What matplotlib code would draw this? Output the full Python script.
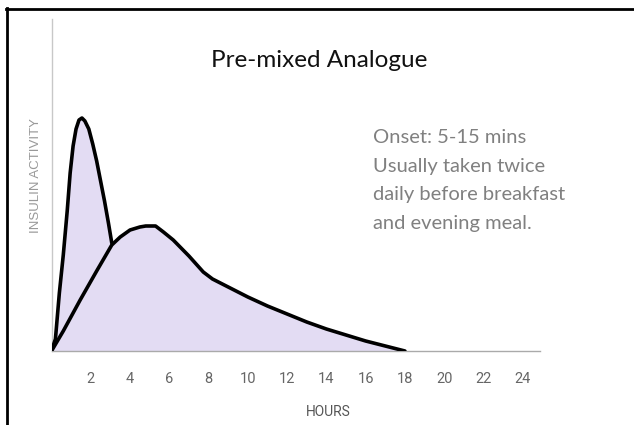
import matplotlib
matplotlib.use("Agg")
import matplotlib.pyplot as plt
from matplotlib.lines import Line2D

# ---- data ----
rapid_hours = [0, 0.2, 0.4, 0.6, 0.8, 0.95, 1.1, 1.25, 1.4, 1.55, 1.7, 1.9, 2.1, 2.3, 2.5, 2.7, 2.9, 3.07]
rapid_activity = [0, 12, 58, 96, 140, 178, 205, 222, 231, 233, 230, 222, 207, 190, 170, 150, 128, 108]

long_hours = [0, 0.6, 1.46, 2.3, 3.07, 3.5, 4.0, 4.5, 4.8, 5.3, 5.7, 6.2, 7.0, 7.73, 8.2, 9, 10, 11, 12, 13, 14, 15, 16, 17, 18]
long_activity = [0, 20, 51, 80, 106, 114, 121, 124, 125, 125, 119, 111, 95, 79, 72, 64, 54, 45, 37, 29, 22, 16, 10, 5, 0]

tick_hours = [2, 4, 6, 8, 10, 12, 14, 16, 18, 20, 22, 24]
tick_labels = [str(t) for t in tick_hours]

title = "Pre-mixed Analogue"
note_lines = ["Onset: 5-15 mins", "Usually taken twice", "daily before breakfast", "and evening meal."]
x_label = "HOURS"
y_label = "INSULIN ACTIVITY"

W, H = 634, 425
fig = plt.figure(figsize=(W / 100, H / 100), dpi=100)
fig.patch.set_facecolor("white")

def fx(px):
    return px / W

def fy(py):
    return 1 - py / H

ax = fig.add_axes([fx(51.5), fy(351), fx(540) - fx(51.5), fy(19) - fy(351)])
ax.set_xlim(0, 24.88)
ax.set_ylim(0, 332)

fill_col = "#e3dcf3"
ax.fill_between(long_hours, long_activity, 0, color=fill_col, lw=0, zorder=1)
ax.fill_between(rapid_hours, rapid_activity, 0, color=fill_col, lw=0, zorder=1)
ax.plot(rapid_hours, rapid_activity, color="black", lw=2.6, solid_capstyle="round", solid_joinstyle="round", zorder=3)
ax.plot(long_hours, long_activity, color="black", lw=2.6, solid_capstyle="round", solid_joinstyle="round", zorder=3)

for s in ["top", "right"]:
    ax.spines[s].set_visible(False)
ax.spines["left"].set_color("#c8c8c8")
ax.spines["left"].set_linewidth(1.0)
ax.spines["bottom"].set_color("#aaaaaa")
ax.spines["bottom"].set_linewidth(1.0)
ax.set_yticks([])
ax.set_xticks(tick_hours)
ax.set_xticklabels(tick_labels, fontfamily="Roboto", fontsize=10.5, color="#666666")
ax.tick_params(axis="x", length=0, pad=15)
ax.set_facecolor("none")

fig.text(fx(328), fy(412.5), x_label, ha="center", va="center", fontfamily="Roboto", fontsize=10, color="#555555")
fig.text(fx(36), fy(176), y_label, ha="center", va="center", rotation=90, fontfamily="Liberation Sans", fontsize=9.5, color="#999999")

fig.text(fx(319), fy(66.7), title, ha="center", va="baseline", fontfamily="Lato", fontsize=17.5, color="#111111")
for i, line in enumerate(note_lines):
    fig.text(fx(372.7), fy(143.3 + 28.5 * i), line, ha="left", va="baseline", fontfamily="Lato", fontsize=14.5, color="#808080")

# frame lines (top and left)
fig.add_artist(Line2D([fx(6), fx(634)], [fy(9.3), fy(9.3)], color="black", lw=2.0, transform=fig.transFigure))
fig.add_artist(Line2D([fx(7), fx(7)], [fy(8.3), fy(425)], color="black", lw=2.0, transform=fig.transFigure))

fig.savefig("out.png", dpi=100)
